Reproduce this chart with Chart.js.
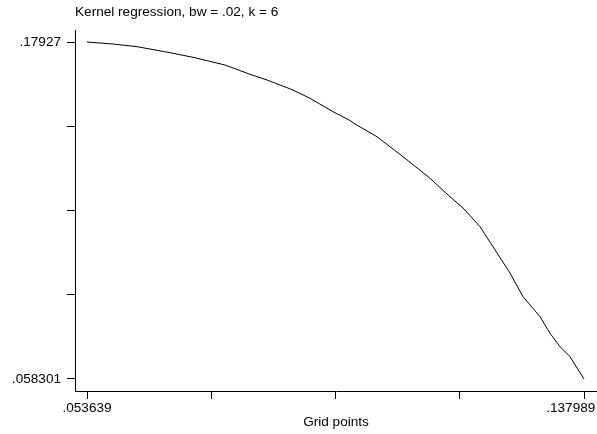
<!DOCTYPE html>
<html>
<head>
<meta charset="utf-8">
<script src="https://cdn.jsdelivr.net/npm/chart.js@4/dist/chart.umd.min.js"></script>
<style>
  html, body { margin: 0; padding: 0; background: #fff; }
  #wrap { width: 597px; height: 434px; }
</style>
</head>
<body>
<div id="wrap"><canvas id="kernel-chart" width="597" height="434"></canvas></div>
<script>
// Kernel regression curve
const gridPoints = [
  0.053639, 0.058052, 0.062125, 0.067386, 0.071629, 0.077060, 0.081303,
  0.084189, 0.088601, 0.091487, 0.095390, 0.098275, 0.099124, 0.102858,
  0.107271, 0.111853, 0.115247, 0.117454, 0.120339, 0.122545, 0.125431,
  0.127637, 0.130522, 0.132219, 0.133917, 0.135614, 0.137989
];
const kernelValues = [
  0.179270, 0.178552, 0.177583, 0.175573, 0.173778, 0.171014, 0.167676,
  0.165630, 0.162040, 0.159061, 0.154250, 0.151092, 0.149835, 0.145276,
  0.138097, 0.130344, 0.123739, 0.119683, 0.112970, 0.105791, 0.096350,
  0.087843, 0.080664, 0.074705, 0.069895, 0.066305, 0.058301
];

// axis ticks (only the end ticks carry a label)
const xTickValues = [0.053639, 0.0747265, 0.095814, 0.1169015, 0.137989];
const xTickLabels = [".053639", "", "", "", ".137989       "];
const yTickValues = [0.058301, 0.0885415, 0.118782, 0.1490275, 0.17927];
const yTickLabels = [".058301", "", "", "", ".17927"];

const font = { family: "'Liberation Sans', Arial, sans-serif", size: 13.6, weight: "normal" };

new Chart(document.getElementById("kernel-chart"), {
  type: "line",
  data: {
    datasets: [
      {
        label: "Kernel regression",
        data: gridPoints.map((x, i) => ({ x: x, y: kernelValues[i] })),
        borderColor: "#000000",
        borderWidth: 1,
        pointRadius: 0,
        tension: 0,
        fill: false,
      },
    ],
  },
  options: {
    responsive: false,
    animation: false,
    layout: { padding: 0 },
    plugins: {
      legend: { display: false },
      tooltip: { enabled: false },
      title: {
        display: true,
        text: "Kernel regression, bw = .02, k = 6",
        align: "start",
        fullSize: false,
        color: "#000",
        font: font,
        padding: { top: 4, bottom: 9.68 },
      },
    },
    scales: {
      x: {
        type: "linear",
        min: 0.051602,
        max: 0.140195,
        afterBuildTicks: (scale) => {
          scale.ticks = xTickValues.map((v) => ({ value: v }));
        },
        afterFit: (scale) => {
          scale.height = 43;
          scale.paddingLeft = 0;
          scale.paddingRight = 0;
        },
        ticks: {
          autoSkip: false,
          maxRotation: 0,
          color: "#000",
          font: font,
          padding: 1,
          callback: (value, index) => xTickLabels[index],
        },
        grid: { drawOnChartArea: false, drawTicks: true, tickLength: 8, color: "#000" },
        border: { color: "#000", width: 1 },
        title: {
          display: true,
          text: "Grid points",
          color: "#000",
          font: font,
          padding: { top: 0, bottom: 4 },
        },
      },
      y: {
        type: "linear",
        min: 0.053993,
        max: 0.183578,
        afterBuildTicks: (scale) => {
          scale.ticks = yTickValues.map((v) => ({ value: v }));
        },
        afterFit: (scale) => {
          scale.width = 75;
          scale.paddingTop = 0;
          scale.paddingBottom = 0;
        },
        ticks: {
          autoSkip: false,
          color: "#000",
          font: font,
          padding: 6,
          callback: (value, index) => yTickLabels[index],
        },
        grid: { drawOnChartArea: false, drawTicks: true, tickLength: 8, color: "#000" },
        border: { color: "#000", width: 1 },
      },
    },
  },
});
</script>
</body>
</html>
